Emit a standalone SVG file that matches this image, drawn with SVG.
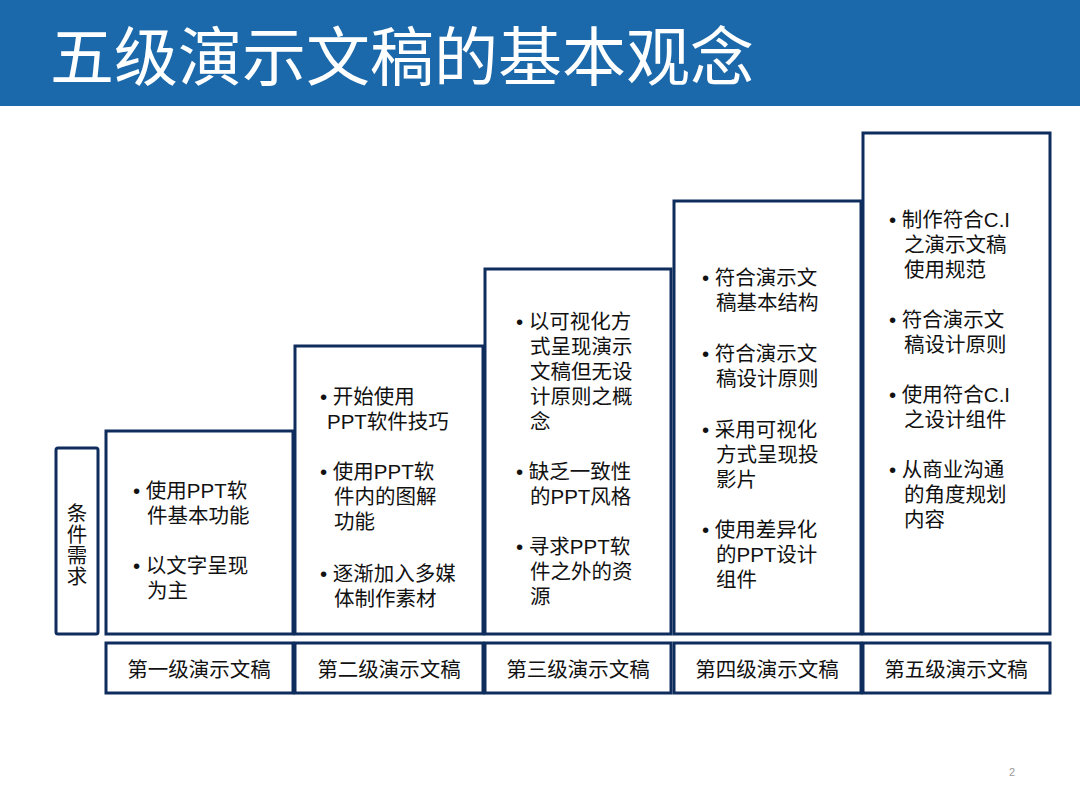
<svg xmlns="http://www.w3.org/2000/svg" width="1080" height="810" viewBox="0 0 1080 810">
<style>
.b{fill:#fff;stroke:#0e2d5c;stroke-width:3}
text{font-family:"Liberation Sans","Noto Sans CJK SC",sans-serif;fill:#111}
.t{font-size:20.5px}
.l{font-size:20.5px;text-anchor:middle}
</style>
<rect width="1080" height="810" fill="#fff"/>
<rect x="0" y="0" width="1080" height="106" fill="#1b69ab"/>
<text x="50" y="80" style="font-size:64px;fill:#fff">五级演示文稿的基本观念</text>
<g id="req"><rect class="b" x="56" y="448" width="42" height="186" rx="2"/>
<text class="l" x="77" y="521">条</text><text class="l" x="77" y="542">件</text><text class="l" x="77" y="563">需</text><text class="l" x="77" y="584">求</text></g>
<g id="n1"><rect class="b" x="106" y="431" width="187" height="203"/>
<text class="t"><tspan x="133" y="498">• 使用PPT软</tspan><tspan x="147" y="523">件基本功能</tspan><tspan x="133" y="573">• 以文字呈现</tspan><tspan x="147" y="598">为主</tspan></text></g>
<g id="n2"><rect class="b" x="295" y="346" width="188" height="288"/>
<text class="t"><tspan x="320" y="404">• 开始使用</tspan><tspan x="327" y="429">PPT软件技巧</tspan><tspan x="320" y="479">• 使用PPT软</tspan><tspan x="334" y="504">件内的图解</tspan><tspan x="334" y="529">功能</tspan><tspan x="320" y="581">• 逐渐加入多媒</tspan><tspan x="334" y="606">体制作素材</tspan></text></g>
<g id="n3"><rect class="b" x="485" y="269" width="186" height="365"/>
<text class="t"><tspan x="516" y="329">• 以可视化方</tspan><tspan x="530" y="354">式呈现演示</tspan><tspan x="530" y="379">文稿但无设</tspan><tspan x="530" y="404">计原则之概</tspan><tspan x="530" y="429">念</tspan><tspan x="516" y="479">• 缺乏一致性</tspan><tspan x="530" y="504">的PPT风格</tspan><tspan x="516" y="554">• 寻求PPT软</tspan><tspan x="530" y="579">件之外的资</tspan><tspan x="530" y="604">源</tspan></text></g>
<g id="n4"><rect class="b" x="674" y="201" width="187" height="433"/>
<text class="t"><tspan x="702" y="285">• 符合演示文</tspan><tspan x="716" y="310">稿基本结构</tspan><tspan x="702" y="361">• 符合演示文</tspan><tspan x="716" y="386">稿设计原则</tspan><tspan x="702" y="437">• 采用可视化</tspan><tspan x="716" y="462">方式呈现投</tspan><tspan x="716" y="487">影片</tspan><tspan x="702" y="537">• 使用差异化</tspan><tspan x="716" y="562">的PPT设计</tspan><tspan x="716" y="587">组件</tspan></text></g>
<g id="n5"><rect class="b" x="863" y="133" width="187" height="501"/>
<text class="t"><tspan x="889" y="227">• 制作符合C.I</tspan><tspan x="904" y="252">之演示文稿</tspan><tspan x="904" y="277">使用规范</tspan><tspan x="889" y="327">• 符合演示文</tspan><tspan x="904" y="352">稿设计原则</tspan><tspan x="889" y="402">• 使用符合C.I</tspan><tspan x="904" y="427">之设计组件</tspan><tspan x="889" y="477">• 从商业沟通</tspan><tspan x="904" y="502">的角度规划</tspan><tspan x="904" y="527">内容</tspan></text></g>
<g id="labels">
<rect class="b" x="106" y="643" width="187" height="50"/><text class="l" x="199" y="677">第一级演示文稿</text>
<rect class="b" x="295" y="643" width="188" height="50"/><text class="l" x="389" y="677">第二级演示文稿</text>
<rect class="b" x="485" y="643" width="186" height="50"/><text class="l" x="578" y="677">第三级演示文稿</text>
<rect class="b" x="674" y="643" width="187" height="50"/><text class="l" x="767" y="677">第四级演示文稿</text>
<rect class="b" x="863" y="643" width="187" height="50"/><text class="l" x="956" y="677">第五级演示文稿</text>
</g>
<g id="connectors"/>
<text x="1012" y="776" style="font-size:11px;fill:#999;text-anchor:middle">2</text>
</svg>
